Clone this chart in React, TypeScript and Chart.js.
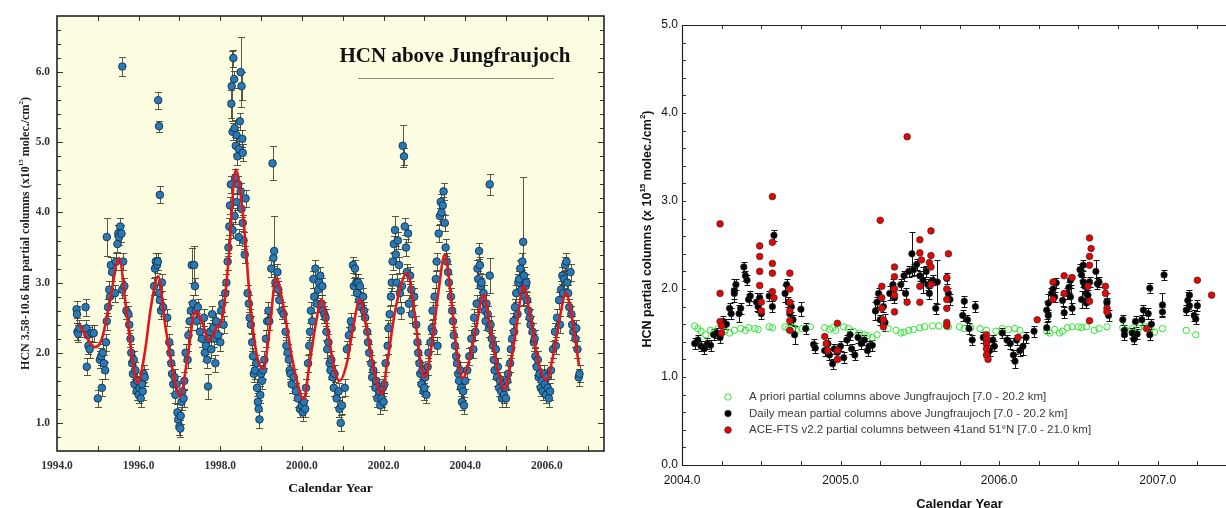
import React, { useEffect, useRef } from "react";
import { Chart, registerables } from "chart.js";
Chart.register(...registerables);

type P = number[]; // [year, value, error?]

// ---------- LEFT PANEL DATA ----------
const leftXTicks = [1994, 1996, 1998, 2000, 2002, 2004, 2006];
const leftYTicks = [1, 2, 3, 4, 5, 6];
const leftTitle = "HCN above Jungfraujoch";
const leftYTitleParts: [string, boolean][] = [
  ["HCN 3.58-10.6 km partial columns (x10", false],
  ["15", true],
  [" molec./cm", false],
  ["2", true],
  [")", false],
];

const fitYears = [
  1994.54, 1994.75, 1994.93, 1995.1, 1995.3, 1995.52, 1995.7, 1995.85, 1995.98, 1996.15, 1996.3, 1996.48,
  1996.65, 1996.85, 1997.02, 1997.2, 1997.39, 1997.55, 1997.72, 1997.9, 1998.05, 1998.2, 1998.38, 1998.55,
  1998.75, 1998.9, 1999.06, 1999.2, 1999.37, 1999.55, 1999.75, 1999.9, 2000.04, 2000.2, 2000.35, 2000.49,
  2000.65, 2000.8, 2000.92, 2001.1, 2001.25, 2001.42, 2001.6, 2001.8, 2001.95, 2002.1, 2002.3, 2002.58,
  2002.75, 2002.9, 2003.01, 2003.2, 2003.35, 2003.5, 2003.65, 2003.8, 2003.94, 2004.1, 2004.28, 2004.45,
  2004.6, 2004.8, 2004.97, 2005.1, 2005.25, 2005.43, 2005.6, 2005.8, 2005.99, 2006.15, 2006.3, 2006.47,
  2006.6, 2006.79,
];
const fitValues = [
  2.41, 2.2, 2.08, 2.2, 2.75, 3.35, 2.6, 1.9, 1.57, 2.0, 2.65, 3.09,
  2.4, 1.7, 1.38, 1.95, 2.59, 2.45, 2.17, 2.35, 2.5, 3.3, 4.61, 4.0,
  2.6, 1.95, 1.77, 2.3, 3.07, 2.65, 1.95, 1.55, 1.34, 1.9, 2.45, 2.76,
  2.25, 1.75, 1.6, 1.85, 2.35, 2.76, 2.3, 1.65, 1.41, 1.9, 2.65, 3.14,
  2.6, 1.9, 1.65, 2.2, 2.9, 3.4, 2.8, 2.0, 1.64, 1.9, 2.4, 2.83,
  2.4, 1.75, 1.48, 1.8, 2.35, 2.95, 2.5, 1.85, 1.61, 1.95, 2.45, 2.85,
  2.55, 1.81,
];

const jungfraujochPoints: P[] = [
  [1994.48, 2.62], [1994.49, 2.55], [1994.5, 2.3], [1994.52, 2.27], [1994.55, 2.35], [1994.7, 2.65], [1994.72, 2.35],
  [1994.73, 1.8], [1994.75, 2.25], [1994.77, 2.1], [1994.8, 2.05], [1994.85, 2.28], [1994.9, 2.28], [1995.0, 1.35],
  [1995.05, 1.9], [1995.08, 1.95], [1995.1, 1.5], [1995.12, 2.0], [1995.15, 1.85], [1995.18, 1.75], [1995.2, 2.15],
  [1995.22, 2.45], [1995.25, 2.65], [1995.28, 2.9], [1995.3, 2.8], [1995.32, 3.25], [1995.35, 3.15], [1995.22, 3.65, 0.27],
  [1995.42, 2.85], [1995.45, 3.3], [1995.48, 3.55], [1995.5, 3.7], [1995.52, 3.65], [1995.55, 3.8], [1995.58, 3.7],
  [1995.6, 6.08, 0.13], [1995.6, 2.9], [1995.62, 3.3], [1995.65, 2.95], [1995.7, 2.6],
  [1995.75, 2.55], [1995.77, 2.4], [1995.8, 2.2], [1995.82, 2.0], [1995.84, 1.85], [1995.86, 1.7], [1995.88, 1.9],
  [1995.9, 1.55], [1995.92, 1.75], [1995.95, 1.45], [1995.97, 1.6], [1996.0, 1.4], [1996.02, 1.5], [1996.05, 1.35],
  [1996.08, 1.55], [1996.1, 1.45], [1996.12, 1.7], [1996.15, 1.65],
  [1996.38, 2.95], [1996.4, 3.2], [1996.42, 3.3], [1996.45, 3.25], [1996.47, 3.3], [1996.48, 5.6], [1996.5, 5.23, 0.08],
  [1996.52, 4.25], [1996.5, 2.85], [1996.52, 2.75], [1996.55, 2.6], [1996.57, 3.0], [1996.6, 2.65], [1996.7, 2.5],
  [1996.75, 2.15], [1996.78, 2.0], [1996.8, 1.85], [1996.82, 1.7], [1996.85, 1.55], [1996.88, 1.65], [1996.9, 1.4],
  [1996.93, 1.55], [1996.95, 1.15], [1996.97, 1.05], [1997.0, 0.95], [1997.02, 0.92], [1997.03, 1.1], [1997.05, 1.3],
  [1997.07, 1.45], [1997.1, 1.35], [1997.12, 1.6], [1997.15, 2.0],
  [1997.2, 1.9], [1997.22, 2.25], [1997.25, 2.45], [1997.28, 2.6], [1997.3, 3.25, 0.25], [1997.33, 2.7], [1997.36, 3.25, 0.27],
  [1997.38, 2.95], [1997.4, 2.6], [1997.42, 2.45], [1997.45, 2.65], [1997.5, 2.3], [1997.55, 2.2],
  [1997.6, 2.5], [1997.62, 2.0], [1997.65, 2.1], [1997.68, 1.9], [1997.7, 1.52, 0.18], [1997.72, 2.2], [1997.75, 2.3],
  [1997.78, 2.05], [1997.8, 2.55], [1997.82, 2.35], [1997.85, 2.2], [1997.88, 1.85], [1997.9, 2.45], [1997.95, 2.25],
  [1998.0, 2.15], [1998.02, 2.6], [1998.05, 2.7], [1998.08, 2.4],
  [1998.12, 2.85], [1998.15, 3.0], [1998.18, 3.3], [1998.2, 3.5], [1998.22, 3.8], [1998.24, 4.1], [1998.26, 4.4],
  [1998.27, 5.55, 0.2], [1998.28, 5.8, 0.5], [1998.3, 5.15], [1998.32, 6.2], [1998.34, 5.9], [1998.35, 5.2], [1998.37, 4.5],
  [1998.38, 4.95], [1998.4, 5.1], [1998.42, 4.8], [1998.44, 4.4], [1998.46, 4.9], [1998.48, 5.3], [1998.5, 6.0, 0.5],
  [1998.52, 5.8, 0.2], [1998.54, 5.05], [1998.55, 4.85], [1998.5, 4.3], [1998.52, 4.05], [1998.55, 3.85], [1998.57, 3.6],
  [1998.6, 3.4], [1998.62, 4.2], [1998.4, 4.15], [1998.35, 3.95], [1998.3, 3.75], [1998.45, 3.65],
  [1998.67, 2.85], [1998.7, 2.7], [1998.72, 2.5], [1998.75, 2.4], [1998.78, 2.15], [1998.8, 1.95], [1998.82, 1.7],
  [1998.85, 1.75], [1998.88, 1.85], [1998.9, 1.5], [1998.92, 1.3], [1998.94, 1.2], [1998.96, 1.05], [1998.98, 1.4],
  [1999.0, 1.7], [1999.02, 1.6], [1999.05, 1.75], [1999.08, 1.9],
  [1999.12, 2.2], [1999.15, 2.45], [1999.18, 2.6], [1999.2, 2.45], [1999.25, 3.2], [1999.28, 4.7, 0.24], [1999.3, 3.35],
  [1999.32, 3.45, 0.5], [1999.35, 3.0], [1999.38, 2.95], [1999.4, 3.15], [1999.42, 2.9], [1999.45, 2.75], [1999.5, 2.6],
  [1999.55, 2.55], [1999.6, 2.3], [1999.62, 2.1], [1999.65, 2.0], [1999.68, 1.9], [1999.7, 1.75], [1999.72, 1.7],
  [1999.75, 1.55], [1999.8, 1.65], [1999.85, 1.45], [1999.9, 1.35], [1999.95, 1.2], [2000.0, 1.25], [2000.02, 1.15],
  [2000.05, 1.3], [2000.08, 1.2], [2000.1, 1.5],
  [2000.15, 1.85], [2000.18, 2.1], [2000.2, 2.3], [2000.22, 2.6], [2000.25, 2.45], [2000.28, 3.05], [2000.3, 2.8],
  [2000.33, 3.2], [2000.36, 2.7], [2000.4, 2.9], [2000.42, 3.0], [2000.45, 3.1], [2000.48, 2.7], [2000.5, 2.95],
  [2000.52, 2.6], [2000.55, 2.55], [2000.58, 2.5],
  [2000.6, 2.3], [2000.62, 2.05], [2000.65, 2.15], [2000.68, 1.85], [2000.7, 1.75], [2000.72, 1.9], [2000.75, 1.65],
  [2000.78, 1.5], [2000.8, 1.7], [2000.85, 1.35], [2000.9, 1.45], [2000.92, 1.2], [2000.95, 1.0], [2000.98, 1.25],
  [2001.05, 1.5],
  [2001.1, 2.05], [2001.15, 2.25], [2001.2, 2.45], [2001.22, 2.35], [2001.25, 3.25], [2001.27, 2.95], [2001.3, 3.2],
  [2001.33, 3.0], [2001.35, 2.85], [2001.38, 3.0], [2001.4, 2.75], [2001.42, 2.95], [2001.45, 2.65], [2001.5, 2.8],
  [2001.52, 2.6],
  [2001.55, 2.5], [2001.6, 2.3], [2001.62, 2.15], [2001.65, 2.0], [2001.7, 1.85], [2001.72, 1.65], [2001.75, 1.75],
  [2001.8, 1.5], [2001.82, 1.6], [2001.85, 1.35], [2001.9, 1.45], [2001.92, 1.25], [2001.95, 1.35], [2001.98, 1.5],
  [2002.0, 1.3], [2002.02, 1.55], [2002.05, 1.85],
  [2002.1, 2.1], [2002.12, 2.35], [2002.15, 2.55], [2002.18, 2.8], [2002.2, 3.0], [2002.22, 3.3], [2002.25, 3.55],
  [2002.28, 3.75, 0.2], [2002.3, 3.4], [2002.32, 3.0], [2002.35, 3.6], [2002.38, 3.25], [2002.4, 2.85], [2002.42, 2.6],
  [2002.45, 2.95], [2002.47, 4.95, 0.3], [2002.5, 4.8], [2002.52, 3.8], [2002.55, 3.5], [2002.57, 3.15], [2002.6, 3.7],
  [2002.62, 2.7], [2002.65, 3.1], [2002.68, 2.9], [2002.7, 2.55], [2002.75, 2.8],
  [2002.8, 2.4], [2002.83, 2.15], [2002.85, 2.0], [2002.88, 1.85], [2002.9, 1.7], [2002.93, 1.55], [2002.95, 1.75],
  [2002.98, 1.45], [2003.0, 1.5], [2003.02, 1.65], [2003.05, 1.4], [2003.08, 1.8],
  [2003.1, 2.0], [2003.15, 2.15], [2003.18, 2.35], [2003.2, 2.6], [2003.22, 2.3], [2003.25, 2.8], [2003.28, 3.05],
  [2003.3, 3.3], [2003.32, 2.1], [2003.35, 3.7], [2003.38, 3.95], [2003.4, 4.15], [2003.42, 4.0], [2003.45, 4.1],
  [2003.47, 4.3], [2003.5, 3.85], [2003.52, 3.5], [2003.55, 3.3], [2003.58, 3.15], [2003.6, 3.0],
  [2003.65, 2.8], [2003.68, 2.6], [2003.7, 2.45], [2003.72, 2.25], [2003.75, 2.1], [2003.78, 1.95], [2003.8, 1.85],
  [2003.83, 1.7], [2003.85, 1.6], [2003.88, 1.75], [2003.9, 1.5], [2003.92, 1.3], [2003.95, 1.45], [2003.97, 1.25],
  [2004.0, 1.6], [2004.05, 1.75],
  [2004.1, 1.95], [2004.15, 2.2], [2004.2, 2.05], [2004.22, 2.5], [2004.25, 2.3], [2004.28, 2.7], [2004.3, 3.2],
  [2004.32, 3.05], [2004.34, 3.45], [2004.36, 3.25], [2004.38, 2.95], [2004.4, 3.0], [2004.42, 2.75], [2004.45, 2.85],
  [2004.48, 2.6], [2004.5, 2.45], [2004.52, 2.7], [2004.55, 2.55], [2004.58, 2.35], [2004.62, 2.4], [2004.6, 4.4, 0.15],
  [2004.6, 3.1, 0.25],
  [2004.65, 2.2], [2004.68, 2.1], [2004.7, 1.9], [2004.72, 1.75], [2004.75, 2.05], [2004.78, 1.65], [2004.8, 1.8],
  [2004.83, 1.5], [2004.85, 1.6], [2004.88, 1.45], [2004.9, 1.35], [2004.93, 1.55], [2004.95, 1.4], [2004.98, 1.5],
  [2005.0, 1.35], [2005.03, 1.6], [2005.05, 1.7],
  [2005.1, 1.85], [2005.12, 2.05], [2005.15, 2.2], [2005.18, 2.45], [2005.2, 2.3], [2005.22, 2.65], [2005.25, 2.85],
  [2005.28, 2.55], [2005.3, 3.0], [2005.32, 3.05], [2005.35, 3.2], [2005.38, 2.9], [2005.4, 3.3], [2005.42, 3.58, 0.92],
  [2005.44, 3.1], [2005.45, 2.8], [2005.48, 2.95], [2005.5, 3.0], [2005.52, 2.75], [2005.55, 2.6], [2005.58, 2.5],
  [2005.6, 2.4],
  [2005.65, 2.3], [2005.68, 2.15], [2005.7, 2.2], [2005.72, 1.95], [2005.75, 1.8], [2005.78, 1.9], [2005.8, 1.65],
  [2005.82, 1.7], [2005.85, 1.5], [2005.88, 1.6], [2005.9, 1.45], [2005.92, 1.7], [2005.95, 1.55], [2005.98, 1.4],
  [2006.0, 1.65], [2006.02, 1.5], [2006.05, 1.35], [2006.08, 1.45], [2006.1, 1.75],
  [2006.15, 2.05], [2006.2, 2.3], [2006.22, 2.1], [2006.25, 2.5], [2006.3, 2.75], [2006.32, 2.4], [2006.35, 2.9],
  [2006.38, 3.1], [2006.4, 2.85], [2006.42, 3.05], [2006.45, 3.25], [2006.48, 3.3], [2006.5, 3.0], [2006.52, 2.85],
  [2006.55, 2.65], [2006.58, 3.15], [2006.6, 2.55], [2006.62, 2.4], [2006.65, 2.3], [2006.7, 2.2], [2006.72, 2.35],
  [2006.75, 2.05], [2006.78, 1.65], [2006.8, 1.7],
];

// ---------- RIGHT PANEL DATA ----------
const rightXTicks = [2004, 2005, 2006, 2007];
const rightYTicks = [0, 1, 2, 3, 4, 5];
const rightYTitleParts: [string, boolean][] = [
  ["HCN partial columns (x 10", false],
  ["15", true],
  [" molec./cm", false],
  ["2", true],
  [")", false],
];
const legendLabels = [
  "A priori partial columns above Jungfraujoch [7.0 - 20.2 km]",
  "Daily mean partial columns above Jungfraujoch [7.0 - 20.2 km]",
  "ACE-FTS v2.2 partial columns between 41and 51°N [7.0 - 21.0 km]",
];

const aprioriPoints: P[] = [
  [2004.08, 1.58], [2004.1, 1.55], [2004.12, 1.52], [2004.15, 1.48], [2004.18, 1.53], [2004.2, 1.5], [2004.23, 1.55],
  [2004.27, 1.52], [2004.3, 1.5], [2004.33, 1.53], [2004.37, 1.55], [2004.4, 1.53], [2004.42, 1.56], [2004.46, 1.55],
  [2004.48, 1.54], [2004.55, 1.57], [2004.57, 1.56], [2004.65, 1.57], [2004.67, 1.55], [2004.7, 1.56], [2004.72, 1.53],
  [2004.76, 1.55], [2004.81, 1.57], [2004.9, 1.56], [2004.93, 1.54], [2004.95, 1.56], [2004.97, 1.53], [2005.02, 1.57],
  [2005.05, 1.55], [2005.08, 1.52], [2005.12, 1.5], [2005.15, 1.48], [2005.17, 1.47], [2005.2, 1.45], [2005.23, 1.48],
  [2005.3, 1.55], [2005.35, 1.53], [2005.38, 1.5], [2005.4, 1.51], [2005.43, 1.53], [2005.46, 1.54], [2005.5, 1.56],
  [2005.53, 1.57], [2005.58, 1.58], [2005.62, 1.58], [2005.67, 1.6], [2005.68, 1.57], [2005.75, 1.57], [2005.78, 1.55],
  [2005.82, 1.56], [2005.88, 1.55], [2005.92, 1.53], [2005.98, 1.52], [2006.02, 1.55], [2006.06, 1.54], [2006.1, 1.55],
  [2006.13, 1.53], [2006.3, 1.52], [2006.32, 1.5], [2006.35, 1.54], [2006.38, 1.5], [2006.4, 1.52], [2006.43, 1.56],
  [2006.46, 1.57], [2006.5, 1.57], [2006.52, 1.56], [2006.55, 1.57], [2006.6, 1.53], [2006.63, 1.55], [2006.68, 1.57],
  [2006.78, 1.56], [2006.8, 1.53], [2006.84, 1.55], [2006.88, 1.55], [2006.92, 1.57], [2006.95, 1.53], [2006.98, 1.51],
  [2007.03, 1.55], [2007.18, 1.53], [2007.24, 1.48],
];

const dailyMeanPoints: P[] = [
  [2004.08, 1.38], [2004.1, 1.42], [2004.12, 1.35], [2004.14, 1.32], [2004.16, 1.38], [2004.18, 1.36],
  [2004.2, 1.48], [2004.22, 1.5], [2004.24, 1.45], [2004.26, 1.63], [2004.28, 1.6],
  [2004.3, 1.78], [2004.31, 1.72], [2004.33, 1.98, 0.13], [2004.34, 2.05], [2004.33, 1.95], [2004.36, 1.72, 0.1],
  [2004.37, 1.78], [2004.39, 2.25], [2004.4, 2.15], [2004.41, 2.1], [2004.42, 1.88], [2004.43, 1.92],
  [2004.47, 1.85, 0.1], [2004.48, 1.8], [2004.5, 1.72], [2004.49, 1.9], [2004.55, 1.92], [2004.57, 1.8], [2004.58, 2.61],
  [2004.65, 1.95, 0.1], [2004.66, 2.05], [2004.68, 1.72, 0.12], [2004.69, 1.8], [2004.7, 1.65], [2004.71, 1.48, 0.1],
  [2004.67, 1.85], [2004.75, 1.77, 0.08], [2004.78, 1.55], [2004.83, 1.37], [2004.84, 1.33],
  [2004.9, 1.3], [2004.92, 1.38], [2004.93, 1.25], [2004.95, 1.15], [2004.96, 1.32], [2004.98, 1.28], [2005.0, 1.35],
  [2005.02, 1.22], [2005.04, 1.42], [2005.06, 1.48], [2005.07, 1.32], [2005.09, 1.25], [2005.11, 1.45], [2005.13, 1.38],
  [2005.15, 1.42], [2005.17, 1.3], [2005.18, 1.35], [2005.2, 1.36],
  [2005.22, 1.75, 0.1], [2005.23, 1.85], [2005.24, 1.95], [2005.25, 1.65], [2005.27, 1.8], [2005.28, 1.62, 0.1],
  [2005.31, 1.95, 0.08], [2005.33, 2.05], [2005.34, 1.9], [2005.38, 2.05], [2005.4, 2.15], [2005.41, 1.95],
  [2005.43, 2.2], [2005.45, 2.4, 0.25], [2005.46, 2.22], [2005.48, 2.28], [2005.5, 2.15], [2005.52, 2.1, 0.15],
  [2005.54, 2.2], [2005.55, 2.05], [2005.56, 1.95], [2005.58, 2.1], [2005.6, 1.78], [2005.61, 2.08, 0.25],
  [2005.67, 2.12], [2005.68, 1.95], [2005.69, 1.88],
  [2005.77, 1.7], [2005.78, 1.86], [2005.8, 1.65], [2005.81, 1.55], [2005.83, 1.42], [2005.85, 1.8],
  [2005.9, 1.45], [2005.92, 1.38], [2005.94, 1.3], [2005.96, 1.42], [2005.97, 1.35],
  [2006.02, 1.5], [2006.05, 1.42], [2006.07, 1.38], [2006.09, 1.25], [2006.1, 1.18, 0.08], [2006.11, 1.42],
  [2006.13, 1.3], [2006.15, 1.35, 0.1], [2006.17, 1.45], [2006.22, 1.52],
  [2006.3, 1.76, 0.1], [2006.31, 1.7], [2006.3, 1.56], [2006.31, 1.84, 0.1], [2006.33, 1.95], [2006.34, 2.0],
  [2006.35, 1.91], [2006.36, 2.07], [2006.4, 1.87], [2006.41, 1.73], [2006.43, 1.95], [2006.44, 2.02], [2006.45, 2.1],
  [2006.46, 1.78], [2006.45, 1.91, 0.1],
  [2006.51, 2.22], [2006.52, 2.16], [2006.53, 2.08], [2006.54, 2.03], [2006.55, 1.95], [2006.52, 1.88, 0.1],
  [2006.55, 1.84], [2006.56, 1.93], [2006.57, 2.08], [2006.53, 2.27],
  [2006.61, 2.2, 0.13], [2006.62, 2.06], [2006.63, 2.08], [2006.68, 1.86, 0.1], [2006.69, 1.7], [2006.68, 1.84],
  [2006.78, 1.65], [2006.79, 1.53], [2006.79, 1.48], [2006.84, 1.5], [2006.85, 1.43], [2006.86, 1.63], [2006.87, 1.49],
  [2006.9, 1.65], [2006.91, 1.76], [2006.94, 1.72], [2006.95, 1.48], [2006.95, 2.01], [2006.96, 1.6],
  [2007.03, 1.82, 0.13], [2007.03, 1.74], [2007.04, 2.16],
  [2007.18, 1.76], [2007.19, 1.87, 0.1], [2007.2, 1.93], [2007.2, 1.81], [2007.23, 1.7], [2007.24, 1.66], [2007.25, 1.81],
];

const acePoints: P[] = [
  [2004.24, 2.74], [2004.24, 1.95], [2004.24, 1.63], [2004.25, 1.58], [2004.25, 1.5],
  [2004.49, 2.49], [2004.49, 2.37], [2004.49, 2.2], [2004.49, 2.04], [2004.5, 1.85], [2004.5, 1.75],
  [2004.57, 3.05], [2004.57, 2.53], [2004.57, 2.29], [2004.57, 2.18], [2004.57, 1.97], [2004.58, 1.9],
  [2004.68, 2.18], [2004.68, 2.0], [2004.68, 1.85], [2004.68, 1.75], [2004.68, 1.64], [2004.68, 1.53],
  [2004.9, 1.46], [2004.91, 1.38], [2004.92, 1.3], [2004.98, 1.61], [2004.98, 1.3], [2004.98, 1.2],
  [2005.25, 2.78], [2005.26, 2.03], [2005.26, 1.9], [2005.26, 1.78], [2005.27, 1.65], [2005.27, 1.57],
  [2005.34, 2.25], [2005.34, 2.14], [2005.34, 2.0], [2005.34, 1.93], [2005.34, 1.74],
  [2005.42, 3.73], [2005.42, 1.85],
  [2005.5, 2.56], [2005.5, 2.41], [2005.51, 2.33], [2005.5, 2.03], [2005.5, 1.85],
  [2005.57, 2.66], [2005.57, 2.38], [2005.56, 2.3], [2005.57, 2.25], [2005.57, 2.05],
  [2005.68, 2.4], [2005.67, 2.13], [2005.67, 2.0], [2005.67, 1.88], [2005.67, 1.78], [2005.67, 1.62], [2005.67, 1.58],
  [2005.92, 1.48], [2005.92, 1.43], [2005.92, 1.38], [2005.92, 1.32], [2005.92, 1.25], [2005.93, 1.2],
  [2006.12, 1.45], [2006.24, 1.65],
  [2006.34, 2.08], [2006.34, 1.88], [2006.41, 2.15], [2006.41, 1.95], [2006.46, 2.13],
  [2006.57, 2.58], [2006.58, 2.46], [2006.57, 2.37], [2006.57, 2.27], [2006.56, 2.03], [2006.57, 1.86], [2006.57, 1.64],
  [2006.67, 2.03], [2006.67, 1.95], [2006.68, 1.78], [2006.68, 1.74],
  [2006.93, 1.55], [2007.25, 2.1], [2007.34, 1.93],
];

// ---------- helpers ----------
const SERIF = "'Liberation Serif', 'Times New Roman', serif";
const SANS = "'Liberation Sans', Arial, sans-serif";

function drawVerticalRich(ctx: CanvasRenderingContext2D, parts: [string, boolean][], cx: number, cy: number, size: number, family: string, color: string) {
  ctx.save();
  ctx.translate(cx, cy);
  ctx.rotate(-Math.PI / 2);
  const norm = `bold ${size}px ${family}`;
  const sup = `bold ${Math.round(size * 0.62)}px ${family}`;
  let total = 0;
  parts.forEach(([t, s]) => {
    ctx.font = s ? sup : norm;
    total += ctx.measureText(t).width;
  });
  let x = -total / 2;
  ctx.textBaseline = "middle";
  ctx.textAlign = "left";
  ctx.fillStyle = color;
  parts.forEach(([t, s]) => {
    ctx.font = s ? sup : norm;
    ctx.fillText(t, x, s ? -size * 0.38 : 0);
    x += ctx.measureText(t).width;
  });
  ctx.restore();
}

const errorBarPlugin = {
  id: "errorBars",
  beforeDatasetsDraw(chart: any) {
    const ctx = chart.ctx;
    const xs = chart.scales.x;
    const ys = chart.scales.y;
    chart.data.datasets.forEach((ds: any) => {
      if (!ds.errors) return;
      ctx.save();
      ctx.strokeStyle = ds.errorColor;
      ctx.lineWidth = ds.errorWidth || 1;
      const c = ds.capHalf || 3;
      ctx.beginPath();
      ds.data.forEach((p: any, j: number) => {
        const e = ds.errors[j];
        if (!e) return;
        const px = Math.round(xs.getPixelForValue(p.x)) + 0.5;
        const y1 = Math.round(ys.getPixelForValue(p.y - e)) + 0.5;
        const y2 = Math.round(ys.getPixelForValue(p.y + e)) + 0.5;
        ctx.moveTo(px, y1);
        ctx.lineTo(px, y2);
        ctx.moveTo(px - c, y1);
        ctx.lineTo(px + c, y1);
        ctx.moveTo(px - c, y2);
        ctx.lineTo(px + c, y2);
      });
      ctx.stroke();
      ctx.restore();
    });
  },
};

const leftDecor = {
  id: "leftDecor",
  beforeDraw(chart: any) {
    const { ctx, chartArea: a } = chart;
    ctx.save();
    ctx.fillStyle = "#fdfde2";
    ctx.fillRect(a.left, a.top, a.right - a.left, a.bottom - a.top);
    ctx.restore();
  },
  afterDraw(chart: any) {
    const { ctx, chartArea: a, scales } = chart;
    const x = scales.x;
    const y = scales.y;
    ctx.save();
    ctx.strokeStyle = "#333";
    ctx.lineWidth = 1;
    ctx.beginPath();
    for (let yr = 1995; yr <= 2007; yr++) {
      const px = Math.round(x.getPixelForValue(yr)) + 0.5;
      ctx.moveTo(px, a.bottom);
      ctx.lineTo(px, a.bottom - 5);
      ctx.moveTo(px, a.top);
      ctx.lineTo(px, a.top + 5);
    }
    for (let k = 4; k <= 33; k++) {
      const py = Math.round(y.getPixelForValue(k * 0.2)) + 0.5;
      const len = k % 5 === 0 ? 6 : 4;
      ctx.moveTo(a.left, py);
      ctx.lineTo(a.left + len, py);
      ctx.moveTo(a.right, py);
      ctx.lineTo(a.right - len, py);
    }
    ctx.stroke();
    ctx.strokeStyle = "#222";
    ctx.lineWidth = 1.6;
    ctx.strokeRect(a.left, a.top, a.right - a.left, a.bottom - a.top);
    // in-plot title
    ctx.fillStyle = "#111";
    ctx.font = `bold 21px ${SERIF}`;
    ctx.textAlign = "center";
    ctx.textBaseline = "middle";
    ctx.fillText(leftTitle, a.left + 398, a.top + 41);
    ctx.strokeStyle = "#8a8a7a";
    ctx.lineWidth = 1;
    ctx.beginPath();
    ctx.moveTo(a.left + 301, a.top + 62.5);
    ctx.lineTo(a.left + 497, a.top + 62.5);
    ctx.stroke();
    ctx.restore();
    drawVerticalRich(ctx, leftYTitleParts, 26, (a.top + a.bottom) / 2, 12, SERIF, "#222");
  },
};

const rightDecor = {
  id: "rightDecor",
  afterDraw(chart: any) {
    const { ctx, chartArea: a, scales } = chart;
    const x = scales.x;
    const y = scales.y;
    ctx.save();
    ctx.strokeStyle = "#333";
    ctx.lineWidth = 1;
    ctx.beginPath();
    for (let k = 1; k <= 14; k++) {
      const px = Math.round(x.getPixelForValue(2004 + k * 0.25)) + 0.5;
      ctx.moveTo(px, a.bottom);
      ctx.lineTo(px, a.bottom - 4);
      ctx.moveTo(px, a.top);
      ctx.lineTo(px, a.top + 4);
    }
    for (let k = 1; k <= 24; k++) {
      const py = Math.round(y.getPixelForValue(k * 0.2)) + 0.5;
      ctx.moveTo(a.left, py);
      ctx.lineTo(a.left + 4, py);
    }
    ctx.stroke();
    ctx.strokeStyle = "#222";
    ctx.lineWidth = 1.2;
    ctx.beginPath();
    ctx.moveTo(a.right, a.top + 0.5);
    ctx.lineTo(a.left + 0.5, a.top + 0.5);
    ctx.lineTo(a.left + 0.5, a.bottom + 0.5);
    ctx.lineTo(a.right, a.bottom + 0.5);
    ctx.stroke();
    // legend
    const ds = chart.data.datasets;
    legendLabels.forEach((label, i) => {
      const d = ds[i];
      const my = a.bottom - 68 + i * 16.5;
      const mx = a.left + 46;
      ctx.beginPath();
      ctx.arc(mx, my, d.pointRadius, 0, Math.PI * 2);
      if (d.backgroundColor && d.backgroundColor !== "transparent") {
        ctx.fillStyle = d.backgroundColor;
        ctx.fill();
      }
      ctx.lineWidth = d.borderWidth;
      ctx.strokeStyle = d.borderColor;
      ctx.stroke();
      ctx.fillStyle = "#3a3a3a";
      ctx.font = `11.5px ${SANS}`;
      ctx.textAlign = "left";
      ctx.textBaseline = "middle";
      ctx.fillText(label, a.left + 67, my);
    });
    ctx.restore();
    drawVerticalRich(ctx, rightYTitleParts, 33, 229, 12.5, SANS, "#111");
  },
};

const toXY = (arr: P[]) => arr.map((p) => ({ x: p[0], y: p[1] }));

export default function App() {
  const leftRef = useRef<HTMLCanvasElement>(null);
  const rightRef = useRef<HTMLCanvasElement>(null);

  useEffect(() => {
    const left = new Chart(leftRef.current as HTMLCanvasElement, {
      type: "scatter",
      data: {
        datasets: [
          {
            label: "fit",
            data: fitYears.map((x, i) => ({ x, y: fitValues[i] })),
            showLine: true,
            pointRadius: 0,
            borderColor: "#e2161b",
            borderWidth: 2.6,
            cubicInterpolationMode: "monotone",
            order: 0,
          } as any,
          {
            label: "HCN",
            data: toXY(jungfraujochPoints),
            errors: jungfraujochPoints.map((p) => p[2] ?? 0.12),
            errorColor: "rgba(60,60,45,0.85)",
            capHalf: 3.5,
            pointRadius: 3.8,
            backgroundColor: "#2a79b3",
            borderColor: "#123350",
            borderWidth: 0.9,
            order: 1,
          } as any,
        ],
      },
      options: {
        animation: false,
        responsive: false,
        events: [],
        layout: { padding: { top: 16, right: 11, left: 0, bottom: 0 } },
        plugins: { legend: { display: false }, tooltip: { enabled: false } },
        scales: {
          x: {
            type: "linear",
            min: 1994,
            max: 2007.4,
            afterBuildTicks: (s: any) => {
              s.ticks = leftXTicks.map((v) => ({ value: v }));
            },
            afterFit: (s: any) => {
              s.height = 57;
            },
            grid: { display: false, drawTicks: false },
            border: { display: false },
            ticks: {
              padding: 8,
              maxRotation: 0,
              autoSkip: false,
              color: "#333",
              font: { family: SERIF, size: 11.5, weight: "bold" },
              callback: (v: any) => Number(v).toFixed(1),
            },
            title: {
              display: true,
              text: "Calendar Year",
              color: "#111",
              font: { family: SERIF, size: 13.5, weight: "bold" },
              padding: { top: 0, bottom: 11 },
            },
          },
          y: {
            type: "linear",
            min: 0.6,
            max: 6.8,
            afterBuildTicks: (s: any) => {
              s.ticks = leftYTicks.map((v) => ({ value: v }));
            },
            afterFit: (s: any) => {
              s.width = 57;
            },
            grid: { display: false, drawTicks: false },
            border: { display: false },
            ticks: {
              padding: 7,
              color: "#333",
              font: { family: SERIF, size: 11.5, weight: "bold" },
              callback: (v: any) => Number(v).toFixed(1),
            },
          },
        },
      } as any,
      plugins: [leftDecor, errorBarPlugin],
    });

    const right = new Chart(rightRef.current as HTMLCanvasElement, {
      type: "scatter",
      data: {
        datasets: [
          {
            label: legendLabels[0],
            data: toXY(aprioriPoints),
            pointRadius: 3.2,
            backgroundColor: "transparent",
            borderColor: "#2ee82e",
            borderWidth: 1,
            order: 2,
          } as any,
          {
            label: legendLabels[1],
            data: toXY(dailyMeanPoints),
            errors: dailyMeanPoints.map((p) => p[2] ?? 0.06),
            errorColor: "#111",
            capHalf: 3,
            pointRadius: 3.2,
            backgroundColor: "#000",
            borderColor: "#222",
            borderWidth: 0.8,
            order: 1,
          } as any,
          {
            label: legendLabels[2],
            data: toXY(acePoints),
            pointRadius: 3.3,
            backgroundColor: "#f00000",
            borderColor: "#333",
            borderWidth: 0.8,
            order: 0,
          } as any,
        ],
      },
      options: {
        animation: false,
        responsive: false,
        events: [],
        layout: { padding: { top: 25, right: 18, left: 0, bottom: 0 } },
        plugins: { legend: { display: false }, tooltip: { enabled: false } },
        scales: {
          x: {
            type: "linear",
            min: 2004,
            max: 2007.5,
            afterBuildTicks: (s: any) => {
              s.ticks = rightXTicks.map((v) => ({ value: v }));
            },
            afterFit: (s: any) => {
              s.height = 55;
            },
            grid: { display: false, drawTicks: false },
            border: { display: false },
            ticks: {
              padding: 8,
              maxRotation: 0,
              autoSkip: false,
              color: "#111",
              font: { family: SANS, size: 12 },
              callback: (v: any) => Number(v).toFixed(1),
            },
            title: {
              display: true,
              text: "Calendar Year",
              color: "#111",
              font: { family: SANS, size: 13, weight: "bold" },
              padding: { top: 0, bottom: 8 },
            },
          },
          y: {
            type: "linear",
            min: 0,
            max: 5,
            afterBuildTicks: (s: any) => {
              s.ticks = rightYTicks.map((v) => ({ value: v }));
            },
            afterFit: (s: any) => {
              s.width = 67;
            },
            grid: { display: false, drawTicks: false },
            border: { display: false },
            ticks: {
              padding: 4,
              color: "#111",
              font: { family: SANS, size: 12 },
              callback: (v: any) => Number(v).toFixed(1),
            },
          },
        },
      } as any,
      plugins: [rightDecor, errorBarPlugin],
    });

    return () => {
      left.destroy();
      right.destroy();
    };
  }, []);

  return (
    <div style={{ position: "absolute", left: 0, top: 0, width: 1226, height: 508, overflow: "hidden", background: "#fff" }}>
      <div style={{ position: "absolute", left: 0, top: 0, width: 615, height: 508 }}>
        <canvas ref={leftRef} width={615} height={508} style={{ display: "block" }} />
      </div>
      <div style={{ position: "absolute", left: 615, top: 0, width: 640, height: 520 }}>
        <canvas ref={rightRef} width={640} height={520} style={{ display: "block" }} />
      </div>
    </div>
  );
}
